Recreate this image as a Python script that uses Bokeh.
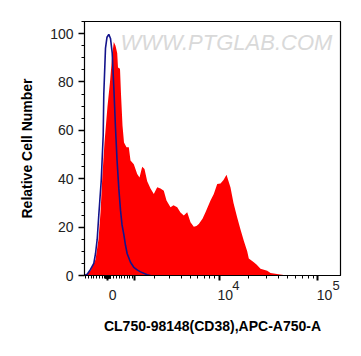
import numpy as np
from bokeh.plotting import figure
from bokeh.models import (Range1d, FixedTicker, SingleIntervalTicker, CustomJSTickFormatter,
                          Label, LinearAxis)
from bokeh.embed import file_html
from bokeh.resources import INLINE

# Histogram data in display (channel) units along the biexponential axis
red_x = [0, 2, 6, 11, 14, 16, 18, 20, 23, 25.5, 27.7, 29.3, 31, 32.7, 33.5, 35.5, 36.5, 38, 39.5,
         42, 44.3, 46, 49.3, 52.7, 55, 57.7, 60, 62.7, 66, 69.3, 72.7, 76, 79.3, 82, 86, 89, 92.7,
         96, 99.3, 102.7, 106, 109.3, 112, 114.3, 118, 121, 126, 129.3, 132.7, 136, 139, 142, 146,
         149, 152.7, 156, 159.3, 162.7, 164.3, 169.3, 172, 176, 182.7, 186, 194, 202.7, 256]
red_y = [0, 0.5, 2, 6.5, 15, 26, 42, 55, 70, 80, 91, 96.5, 95, 92, 86, 85.5, 75, 62, 55,
         53, 53, 47.5, 46, 42, 40.5, 45, 44, 39, 36, 33.7, 36.5, 36, 35, 31, 28.2, 29, 28.2,
         26, 24.8, 26.1, 22, 20.2, 20.5, 21.3, 23.5, 26.1, 31, 33.7, 37.8, 38, 39.5, 41.7, 36.4,
         30, 24, 19, 14.4, 10, 7, 5.5, 4.5, 2.8, 2, 1, 0.5, 0, 0]

blue_x = [0, 2.7, 6, 9.3, 11, 12.7, 14.3, 16.7, 18.7, 19.3, 21, 22.5, 24.3, 26, 27.7, 29.3, 31,
          32.5, 34.3, 36, 37.5, 39.3, 41, 42.7, 46, 49.3, 53, 56, 62.7, 66]
blue_y = [0, 0.5, 2.5, 5, 9, 15, 25, 39, 58, 75, 94, 98.5, 99.7, 98, 92, 78, 61,
          48, 36, 27, 21, 17, 12.5, 9, 5.5, 3.4, 2.2, 1.5, 0.3, 0]

# Axis ticks (fluorescence values) and labels
major_vals = [0, 1e3, 1e4, 1e5]
label_vals = [0, 1e4, 1e5]
label_base = ["0", "10", "10"]
exp_vals = [1e4, 1e5]
exp_text = ["4", "5"]
minor_vals = ([-v for v in range(100, 900, 100)] + list(range(-90, 100, 10)) +
              list(range(100, 1000, 100)) + list(range(2000, 10000, 1000)) +
              list(range(20000, 100000, 10000)))


def chan(v):
    return 23.3 + 42.9 * np.arcsinh(np.asarray(v, dtype=float) / 1500.0)


p = figure(width=353, height=348, output_backend="svg", toolbar_location=None,
           x_range=Range1d(0, 256), y_range=Range1d(0, 105),
           min_border_left=84, min_border_right=13, min_border_top=21, min_border_bottom=73)
p.background_fill_color = "white"
p.border_fill_color = "white"
p.outline_line_color = "black"
p.outline_line_width = 1.2
p.grid.visible = False

p.varea(x=red_x, y1=0, y2=red_y, fill_color="#ff0000")
p.line(x=blue_x, y=blue_y, line_color="#14148c", line_width=1.6)

wm = Label(x=36, y=96.3, text="WWW.PTGLAB.COM", text_font="Liberation Sans",
           text_font_size="22px", text_font_style="italic", text_color="#d9d9d9",
           text_baseline="alphabetic")
p.add_layout(wm)

# main x axis: tick marks only
xa = p.xaxis[0]
xa.ticker = FixedTicker(ticks=[float(t) for t in chan(major_vals)],
                        minor_ticks=[float(t) for t in chan(minor_vals)])
xa.formatter = CustomJSTickFormatter(code="return '';")
xa.major_label_text_font_size = "0px"
xa.major_label_standoff = 0
xa.major_tick_out = 5
xa.major_tick_in = 0
xa.minor_tick_out = 3
xa.minor_tick_in = 0
xa.major_tick_line_width = 2
xa.axis_line_color = "black"
xa.major_tick_line_color = "black"
xa.minor_tick_line_color = "black"

# tick labels (left-aligned at each tick, as in FlowJo)
base_pos = [float(t) for t in chan(label_vals) + np.array([4.8, 6.0, 6.8])]
xb = LinearAxis(ticker=FixedTicker(ticks=base_pos, minor_ticks=[]),
                formatter=CustomJSTickFormatter(args=dict(labels=label_base),
                                                code="return labels[index];"))
xb.major_tick_out = 0
xb.major_tick_in = 0
xb.minor_tick_out = 0
xb.axis_line_color = None
xb.major_tick_line_color = None
xb.minor_tick_line_color = None
xb.major_label_standoff = 9
xb.major_label_text_font = "Liberation Sans"
xb.major_label_text_font_size = "14px"
xb.major_label_text_color = "#222222"
p.add_layout(xb, "below")

# exponents, raised next to the "10"
exp_pos = [float(t) for t in chan(exp_vals) + np.array([16.8, 18.3])]
xc = LinearAxis(ticker=FixedTicker(ticks=exp_pos, minor_ticks=[]),
                formatter=CustomJSTickFormatter(args=dict(labels=exp_text),
                                                code="return labels[index];"))
xc.major_tick_out = 0
xc.major_tick_in = 0
xc.minor_tick_out = 0
xc.axis_line_color = None
xc.major_tick_line_color = None
xc.minor_tick_line_color = None
xc.major_label_standoff = -22
xc.major_label_text_font = "Liberation Sans"
xc.major_label_text_font_size = "13px"
xc.major_label_text_color = "#222222"
xc.axis_label = "CL750-98148(CD38),APC-A750-A"
xc.axis_label_standoff = 25
xc.axis_label_text_font = "Liberation Sans"
xc.axis_label_text_font_size = "14px"
xc.axis_label_text_font_style = "bold"
xc.axis_label_text_color = "black"
p.add_layout(xc, "below")

ya = p.yaxis[0]
ya.ticker = SingleIntervalTicker(interval=20, num_minor_ticks=4)
ya.axis_label = "Relative Cell Number"
ya.major_tick_out = 6
ya.major_tick_in = 0
ya.minor_tick_out = 3
ya.minor_tick_in = 0
ya.major_tick_line_width = 1.5
ya.major_label_standoff = 5
ya.axis_label_standoff = 12
ya.axis_line_color = "black"
ya.major_tick_line_color = "black"
ya.minor_tick_line_color = "black"
ya.major_label_text_font = "Liberation Sans"
ya.major_label_text_font_size = "14px"
ya.major_label_text_color = "#222222"
ya.axis_label_text_font = "Liberation Sans"
ya.axis_label_text_font_size = "14px"
ya.axis_label_text_font_style = "bold"
ya.axis_label_text_color = "black"

open("out.html", "w").write(file_html(p, INLINE))
